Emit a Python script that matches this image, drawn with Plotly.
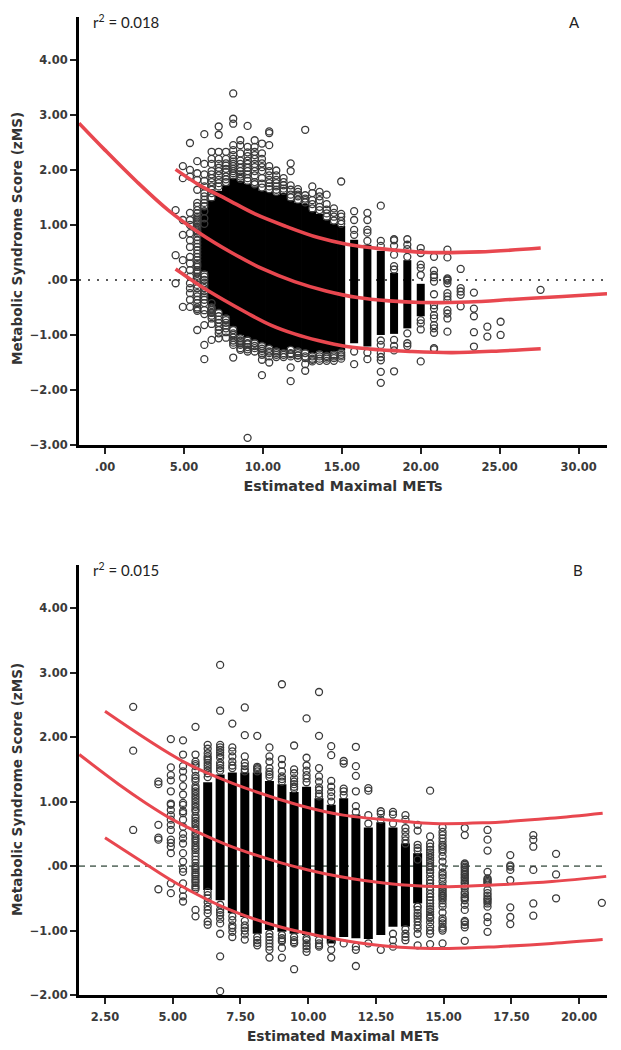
import plotly.graph_objects as go

# ---------- Panel A data ----------
a_core_x = [6.29,6.75,7.2,7.66,8.12,8.57,9.03,9.48,9.94,10.4,10.85,11.31,11.76,12.22,12.68,13.13,13.59,14.04,14.5,14.96,15.78,16.62,17.47,18.31,19.15,20.0]
a_core_high = [1.3,1.45,1.62,1.72,1.85,1.8,1.75,1.7,1.62,1.6,1.55,1.58,1.45,1.4,1.38,1.25,1.2,1.1,1.02,.98,.73,.64,.53,.13,.36,-.07]
a_core_low = [.15,-.45,-.55,-.65,-.85,-1.0,-1.05,-1.1,-1.15,-1.2,-1.25,-1.28,-1.22,-1.25,-1.28,-1.33,-1.3,-1.33,-1.3,-1.28,-1.15,-1.21,-1.0,-.98,-.88,-.66]

a_ring_x = [4.47,4.93,5.38,5.84,6.29,6.75,7.2,7.66,8.12,8.57,9.03,9.48,9.94,10.4,10.85,11.31,11.76,12.22,12.68,13.13,13.59,14.04,14.5,14.96,15.78,16.62,17.47,18.31,19.15,20.0,20.84,21.69,22.53,23.37,24.22,25.06,27.59]
a_ring_y = [
 [1.27,.45,-.06],
 [2.07,1.85,1.09,.82,.36,.18,-.49],
 [2.49,2.0,1.88,1.22,1.09,.85,.6,.42,.18,-.06,-.24,-.49],
 [2.16,1.94,1.82,1.64,1.4,1.27,1.21,1.15,1.09,1.03,.97,.9,.85,.72,.6,.48,.42,.36,.3,.24,.18,.12,.03,-.09,-.24,-.42,-.5,-.56,-.91],
 [2.65,2.11,1.92,1.8,1.58,1.4,1.25,1.12,1.02,.06,-.06,-.15,-.24,-.36,-.82,-1.18,-1.44],
 [2.33,2.11,1.98,1.85,1.7,1.58,1.5,-.5,-.55,-.6,-.65,-1.09],
 [2.79,2.64,2.33,2.11,1.98,1.82,1.7,-.6,-.72,-.91,-1.06],
 [2.33,2.12,2.02,1.88,1.78,-.7,-.73,-.88],
 [3.39,2.93,2.84,2.45,2.36,2.27,2.11,2.02,1.94,-.91,-1.0,-1.1,-1.18,-1.41],
 [2.54,2.45,2.11,1.98,1.88,-1.06,-1.12,-1.15,-1.24],
 [2.8,2.42,2.32,2.11,1.98,1.85,-1.1,-1.15,-1.22],
 [2.54,2.42,2.27,2.11,1.98,1.78,-1.15,-1.2],
 [2.48,2.3,2.12,1.98,1.75,-1.2,-1.25,-1.29,-1.45,-1.73],
 [2.7,2.67,2.45,1.98,1.82,1.7,-1.25,-1.3,-1.39,-1.5],
 [1.99,1.82,1.7,1.64,-1.3,-1.33],
 [1.85,1.72,1.62,-1.33,-1.36],
 [2.12,1.98,1.64,1.55,-1.27,-1.33,-1.39,-1.59,-1.84],
 [1.6,1.52,1.46,-1.3,-1.33,-1.37],
 [2.73,1.54,1.45,-1.33,-1.39,-1.53,-1.65],
 [1.7,1.45,1.3,-1.39,-1.43,-1.48],
 [1.6,1.45,1.27,-1.35,-1.39,-1.43],
 [1.55,1.21,1.15,-1.38,-1.43,-1.47],
 [1.3,1.15,1.08,-1.36,-1.42],
 [1.79,1.15,1.07,1.02,-1.32,-1.39,-1.43],
 [1.25,1.09,.91,.82,-1.3,-1.53],
 [1.22,1.09,.91,.86,.71,-1.32,-1.44],
 [1.35,.71,.62,-1.1,-1.18,-1.33,-1.4,-1.46,-1.67,-1.87],
 [.74,.72,.62,.46,.25,.19,-1.09,-1.2,-1.28,-1.66],
 [.74,.64,.56,.42,-.97,-1.15,-1.2],
 [.58,.49,.28,.22,.09,-.73,-.79,-.9,-1.48],
 [.42,.17,.09,.05,-.03,-.26,-.46,-.52,-.64,-.7,-.82,-.88,-.96,-1.24,-1.26],
 [.55,.41,.03,.01,-.01,-.06,-.24,-.3,-.36,-.55,-.61,-.7,-.94],
 [.2,-.15,-.21,-.27,-.48],
 [-.23,-.52,-.66,-.95,-1.21],
 [-.85,-1.03],
 [-.76,-1.0],
 [-.18],
]
a_low_x = [9.03]
a_low_y = [-2.87]

# additional rings packed around the edge of the dense cloud, panel A
a_fringe_x = [5.38,5.84,6.29,6.75,7.2,7.66,8.12,8.57,9.03,9.48,9.94,10.4,10.85,11.31,11.76,12.22,12.68,13.13,13.59,14.04,14.5,14.96]
a_fringe_y = [
 [1.0,.72,.3,.06,-.15,-.36],
 [1.34,1.12,1.06,.94,.88,.78,.66,.54,.27,.15,.06,-.02,-.15,-.3,-.36,-.53],
 [1.7,1.52,1.46,1.34,.1,0,-.1,-.2,-.3,-.42,-.55,-.62],
 [2.2,1.92,1.78,1.64,-.42,-.52,-.58,-.7,-.8],
 [2.2,2.04,1.9,1.76,-.66,-.78,-.85,-.97],
 [2.2,2.08,1.96,1.83,-.78,-.83,-.95,-1.05],
 [2.2,2.15,2.07,1.98,1.9,-.97,-1.05,-1.14],
 [2.3,2.17,2.04,1.92,1.84,-1.1,-1.18,-1.27],
 [2.25,2.17,2.04,1.92,1.8,-1.17,-1.26,-1.3],
 [2.33,2.2,2.05,1.9,1.74,-1.24,-1.3],
 [2.2,2.05,1.85,1.68,-1.33,-1.36],
 [2.07,1.9,1.76,1.65,-1.33],
 [1.9,1.76,1.6,-1.36,-1.4],
 [1.78,1.66,-1.4],
 [1.72,1.5,-1.35],
 [1.65,1.55,-1.37,-1.42],
 [1.48,1.41,-1.42],
 [1.58,1.38,-1.45],
 [1.52,1.33,-1.47],
 [1.38,1.28,-1.4],
 [1.22,-1.39,-1.47],
 [1.2,-1.36],
]

a_mid_x = [-1.65,0,2,4,6,8,10,12,14,16,18,20,23,26,29,31.8]
a_mid_y = [2.85,2.36,1.79,1.27,.85,.5,.2,-.03,-.2,-.32,-.38,-.41,-.40,-.35,-.30,-.25]
a_up_x = [4.47,6,7.7,9.5,11.5,13.5,15.3,17.4,20.5,23.7,27.6]
a_up_y = [2.01,1.72,1.47,1.2,.97,.77,.65,.57,.50,.51,.58]
a_lo_x = [4.47,6,7.5,9,10.5,12,13.5,15.3,17.4,19.3,22,25,27.6]
a_lo_y = [.2,-.1,-.36,-.6,-.82,-.98,-1.1,-1.21,-1.27,-1.30,-1.32,-1.29,-1.25]

# ---------- Panel B data ----------
b_core_x = [6.29,6.75,7.2,7.66,8.12,8.57,9.03,9.48,9.94,10.4,10.85,11.31,11.76,12.22,12.68,13.13,13.59,14.04]
b_core_high = [1.3,1.42,1.45,1.45,1.45,1.32,1.27,1.15,1.23,1.05,.95,1.05,.8,.6,.68,.6,.35,.2]
b_core_low = [-.37,-.53,-.73,-.79,-1.05,-.99,-1.02,-1.05,-1.07,-1.1,-1.2,-1.1,-1.12,-1.13,-1.07,-.94,-.94,-.58]

b_ring_x = [3.54,4.47,4.93,5.38,5.84,6.29,6.75,7.2,7.66,8.12,8.57,9.03,9.48,9.94,10.4,10.85,11.31,11.76,12.22,12.68,13.13,13.59,14.04,14.5,14.96,15.78,16.62,17.46,18.31,19.15,20.84]
b_ring_y = [
 [2.47,1.79,.56],
 [1.31,1.27,.64,.44,.41,-.36],
 [1.97,1.53,1.41,1.33,1.16,.97,.95,.87,.79,.72,.64,.56,.41,.36,.3,.2,-.27,-.42],
 [1.95,1.73,1.55,1.47,1.37,1.24,1.11,.98,.85,.95,.82,.72,.61,.5,.43,.35,.2,.07,-.04,-.09,-.27,-.37,-.47,-.55],
 [2.16,1.73,1.62,1.55,1.48,1.4,1.32,1.24,1.16,1.08,1.0,.92,.85,.78,.7,.62,.55,.47,.4,.32,.25,.15,.05,-.03,-.1,-.16,-.23,-.3,-.36,-.68,-.78],
 [1.88,1.75,1.67,1.6,1.52,1.44,1.38,-.5,-.63,-.73,-.86,-.91],
 [3.12,2.41,1.88,1.84,1.8,1.76,1.72,1.68,1.52,1.48,-.68,-.76,-.89,-1.05,-1.4,-1.94],
 [2.21,1.84,1.78,1.62,1.52,-.92,-1.02,-1.1],
 [2.46,2.03,1.70,1.5,1.47,-.92,-1.0,-1.14],
 [2.02,1.54,1.5,1.47,-1.15,-1.23],
 [1.84,1.7,1.62,1.52,1.38,-1.1,-1.2,-1.3,-1.42],
 [2.82,1.66,1.57,1.47,1.39,1.31,-1.12,-1.17,-1.42],
 [1.87,1.5,1.44,1.31,1.23,1.2,-1.15,-1.2,-1.6],
 [2.29,1.68,1.56,1.41,1.3,-1.15,-1.2,-1.28,-1.33],
 [2.7,2.02,1.52,1.39,1.31,1.18,1.08,-1.23,-1.25],
 [1.86,1.72,1.32,1.23,1.15,1.08,1.0,-1.2,-1.3,-1.42],
 [1.63,1.59,1.2,1.16,1.1,-1.2],
 [1.85,1.55,1.4,1.16,.93,.84,-1.25,-1.3,-1.55],
 [1.21,1.17,.79,.66,-1.2],
 [.85,.81,.72,-1.3],
 [.84,.8,.66,-1.05,-1.15,-1.25],
 [.79,.72,.59,.53,.4,-1.05,-1.15],
 [.64,.55,.33,.28,-.63,-.73,-.81,-.92,-1.05,-1.23],
 [1.17,.46,.35,.25,.17,.09,.01,-.06,-.22,-.32,-.43,-.53,-.63,-.71,-.79,-.81,-.94,-1.05,-1.21],
 [.6,.53,.43,.38,.3,.22,.07,-.1,-.18,-.3,-.36,-.42,-.5,-.63,-.81,-.89,-.94,-1.0,-1.2],
 [.59,.48,.04,-.01,-.06,-.12,-.17,-.22,-.27,-.35,-.48,-.53,-.68,-.87,-.95,-1.16],
 [.56,.41,.24,-.09,-.21,-.23,-.27,-.37,-.5,-.55,-.63,-.79,-.87,-1.02],
 [.17,.01,-.01,-.06,-.22,-.64,-.79,-.9],
 [.48,.41,.3,-.06,-.58,-.77],
 [.19,-.13,-.5],
 [-.57],
]

# additional rings stacked along the columns, panel B
b_fringe_x = [5.84,6.29,6.75,7.2,7.66,8.12,8.57,9.03,9.48,9.94,10.4,13.59,14.04,14.5,14.96,15.78,16.62]
b_fringe_y = [
 [1.58,1.36,1.2,1.12,1.04,.96,.88,.74,.66,.58,.5,.43,.36,.28,.2,.1,0,-.06,-.13,-.2,-.26,-.33],
 [1.82,1.7,1.64,1.56,1.48,-.4,-.45,-.56,-.68],
 [1.6,1.56,-.6,-.72,-.82],
 [1.7,1.56,-.78,-.84,-.96],
 [1.6,1.55,-.85,-.96,-1.06],
 [1.52,-1.1,-1.19],
 [1.46,1.42,-1.05,-1.15,-1.25],
 [1.35,-1.07,-1.15,-1.27],
 [1.36,1.27,-1.1,-1.18],
 [1.48,1.36,-1.12,-1.24],
 [1.22,1.12,-1.15,-1.2],
 [.46,.35,-.98,-1.1],
 [.24,.1,-.63,-.68,-.77,-.86,-.97],
 [.3,.21,.13,.05,-.02,-.1,-.16,-.27,-.37,-.48,-.58,-.67,-.75,-.87,-1.0],
 [.48,.33,.26,.15,-.02,-.14,-.24,-.33,-.39,-.45,-.47,-.53,-.58,-.72,-.85,-.97],
 [.02,-.03,-.09,-.14,-.19,-.25,-.31,-.41,-.44,-.5,-.6,-.85,-.91],
 [-.19,-.25,-.42,-.46,-.52,-.58],
]

b_mid_x = [1.55,3,4,5,6,7,8,9,10,11,12,13.4,15.2,17,19,21]
b_mid_y = [1.73,1.27,.98,.72,.51,.33,.18,.05,-.06,-.15,-.22,-.29,-.32,-.29,-.24,-.16]
b_up_x = [2.5,5.39,7.24,9.7,11.3,13.39,14.62,16.45,18.93,20.87]
b_up_y = [2.40,1.62,1.28,.94,.79,.70,.66,.67,.74,.82]
b_lo_x = [2.5,3.9,5.15,7,8.84,10.5,11.85,13.4,15.2,17,19,20.87]
b_lo_y = [.44,.06,-.27,-.66,-.93,-1.09,-1.19,-1.26,-1.28,-1.25,-1.2,-1.14]

# ---------- Axis labels ----------
a_xticks = [0,5,10,15,20,25,30]
a_xlabels = [".00","5.00","10.00","15.00","20.00","25.00","30.00"]
a_yticks = [-3,-2,-1,0,1,2,3,4]
a_ylabels = ["\u22123.00","\u22122.00","\u22121.00",".00","1.00","2.00","3.00","4.00"]
b_xticks = [2.5,5,7.5,10,12.5,15,17.5,20]
b_xlabels = ["2.50","5.00","7.50","10.00","12.50","15.00","17.50","20.00"]
b_yticks = [-2,-1,0,1,2,3,4]
b_ylabels = ["\u22122.00","\u22121.00",".00","1.00","2.00","3.00","4.00"]
x_title = "Estimated Maximal METs"
y_title = "Metabolic Syndrome Score (zMS)"

# ---------- Style ----------
W, H = 621, 1050
RING = "#3a3a3a"
RED = "#e8474f"
FONT = "DejaVu Sans"
TICK = dict(family=FONT, size=11.5, color="#3a3a3a", weight="bold")


def flat(xs, cols):
    ox, oy = [], []
    for x, col in zip(xs, cols):
        for v in col:
            ox.append(x)
            oy.append(v)
    return ox, oy


def seg(xs, lows, highs):
    ox, oy = [], []
    for x, l, h in zip(xs, lows, highs):
        ox += [x, x, None]
        oy += [l, h, None]
    return ox, oy


fig = go.Figure()


def panel(xref, yref, xr, core, rings, curves, zero_style, core_w, curve_w):
    fig.add_trace(go.Scatter(x=list(xr), y=[0, 0], mode="lines", xaxis=xref, yaxis=yref,
                             line=zero_style, hoverinfo="skip"))
    cx, cy = seg(*core)
    fig.add_trace(go.Scatter(x=cx, y=cy, mode="lines", xaxis=xref, yaxis=yref,
                             line=dict(color="#000000", width=core_w)))
    rx, ry = flat(*rings)
    fig.add_trace(go.Scatter(x=rx, y=ry, mode="markers", xaxis=xref, yaxis=yref,
                             marker=dict(symbol="circle-open", size=7,
                                         line=dict(color=RING, width=1.3), color=RING)))
    for (lx, ly) in curves:
        fig.add_trace(go.Scatter(x=lx, y=ly, mode="lines", xaxis=xref, yaxis=yref,
                                 line=dict(color=RED, width=curve_w, shape="spline", smoothing=1.0)))


xa_range = [-1.65, 31.8]
xb_range = [1.54, 21.03]
panel("x", "y", xa_range, (a_core_x, a_core_low, a_core_high),
      (a_ring_x + a_low_x + a_fringe_x, a_ring_y + [a_low_y] + a_fringe_y),
      [(a_mid_x, a_mid_y), (a_up_x, a_up_y), (a_lo_x, a_lo_y)],
      dict(color="#222222", width=1.6, dash="2px,7px"), 8, 3.6)
panel("x2", "y2", xb_range, (b_core_x, b_core_low, b_core_high),
      (b_ring_x + b_fringe_x, b_ring_y + b_fringe_y),
      [(b_mid_x, b_mid_y), (b_up_x, b_up_y), (b_lo_x, b_lo_y)],
      dict(color="#6a7a70", width=1.8, dash="6px,5px"), 9, 3)

dom_x = [79 / W, 607 / W]


def xaxis(rng, vals, text, anchor, size):
    return dict(domain=dom_x, range=rng, anchor=anchor, tickmode="array", tickvals=vals, ticktext=text,
                ticks="outside", ticklen=6, tickwidth=1.5, tickcolor="#222222", ticklabelstandoff=3,
                showline=True, linecolor="#000000", linewidth=3, showgrid=False, zeroline=False,
                tickfont=TICK, automargin=False,
                title=dict(text=x_title, font=dict(family=FONT, size=size, color="#333333", weight="bold"), standoff=9))


def yaxis(top_px, bot_px, rng, vals, text, anchor):
    return dict(domain=[1 - bot_px / H, 1 - top_px / H], range=rng, anchor=anchor, tickmode="array",
                tickvals=vals, ticktext=text, ticks="outside", ticklen=6, tickwidth=1.5, tickcolor="#222222",
                showline=True, linecolor="#000000", linewidth=3, showgrid=False, zeroline=False,
                tickfont=TICK, automargin=False)


def note(text, px, py, anchor="left", size=15):
    return dict(text=text, xref="paper", yref="paper", x=px / W, y=1 - py / H, showarrow=False,
                xanchor=anchor, yanchor="middle", font=dict(family="Lato", size=size, color="#222222"))


def side_title(py):
    return dict(text=y_title, xref="paper", yref="paper", x=17 / W, y=1 - py / H, showarrow=False,
                xanchor="center", yanchor="middle", textangle=-90,
                font=dict(family=FONT, size=13.6, color="#333333", weight="bold"))


fig.update_layout(
    width=W, height=H, autosize=False, showlegend=False, plot_bgcolor="white", paper_bgcolor="white",
    margin=dict(l=0, r=0, t=0, b=0),
    xaxis=xaxis(xa_range, a_xticks, a_xlabels, "y", 14.3),
    yaxis=yaxis(17, 445, [-3, 4.78], a_yticks, a_ylabels, "x"),
    xaxis2=xaxis(xb_range, b_xticks, b_xlabels, "y2", 13.8),
    yaxis2=yaxis(565, 995, [-2, 4.67], b_yticks, b_ylabels, "x2"),
    annotations=[
        note("r<sup>2</sup> = 0.018", 91, 21), note("A", 567, 22),
        note("r<sup>2</sup> = 0.015", 91, 569), note("B", 571, 570),
        side_title(239), side_title(790),
    ],
)
fig.write_html("out.html", config=dict(displayModeBar=False, responsive=False),
               post_script="document.body.style.margin='0';")
